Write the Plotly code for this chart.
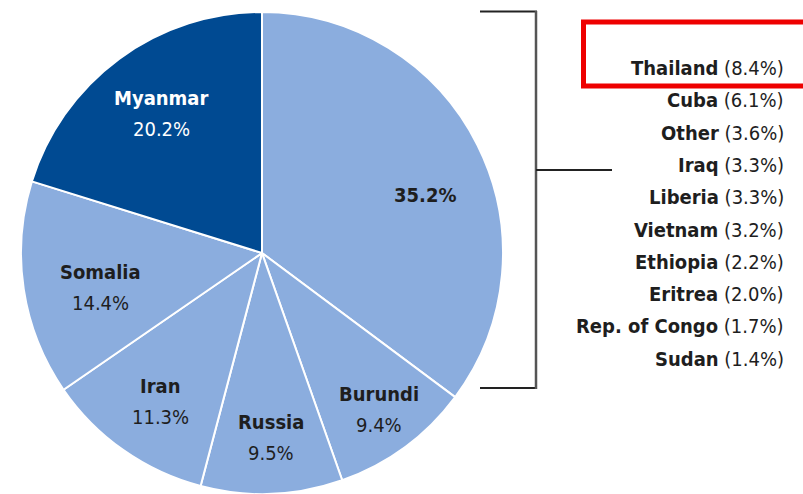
import math
import plotly.graph_objects as go

# ---- data ----
main_labels = ["Other countries", "Burundi", "Russia", "Iran", "Somalia", "Myanmar"]
main_values = [35.2, 9.4, 9.5, 11.3, 14.4, 20.2]

other_labels = ["Thailand", "Cuba", "Other", "Iraq", "Liberia", "Vietnam",
                "Ethiopia", "Eritrea", "Rep. of Congo", "Sudan"]
other_values = [8.4, 6.1, 3.6, 3.3, 3.3, 3.2, 2.2, 2.0, 1.7, 1.4]

# ---- style ----
W, H = 803, 494
FONT = "DejaVu Sans Condensed, Liberation Sans Narrow, Arial Narrow, sans-serif"
LIGHT = "#8badde"
DARK = "#004a92"
INK = "#1e1e1e"
FS = 20

# label placement inside slices: (radius fraction, angle tweak in degrees)
label_place = [(0.72, 7.0), (0.81, -0.5), (0.765, -0.5), (0.745, -0.8), (0.683, -3.3), (0.713, 0.4)]

def px(x):
    return x / W

def py(y):
    return 1 - y / H

cx, cy, r = 262, 253, 241

colors = [DARK if l == "Myanmar" else LIGHT for l in main_labels]

fig = go.Figure(go.Pie(
    labels=main_labels,
    values=main_values,
    sort=False,
    direction="clockwise",
    rotation=0,
    marker=dict(colors=colors, line=dict(color="white", width=2)),
    textinfo="none",
    hoverinfo="label+value",
    showlegend=False,
    domain=dict(x=[px(cx - r), px(cx + r)], y=[py(cy + r), py(cy - r)]),
))

annotations = []
total = sum(main_values)
cum = 0.0
for lab, v, (rf, tweak) in zip(main_labels, main_values, label_place):
    mid = (cum + v / 2) / total * 360 + tweak
    cum += v
    a = math.radians(mid)
    lx = cx + rf * r * math.sin(a)
    ly = cy - rf * r * math.cos(a)
    col = "white" if lab == "Myanmar" else INK
    if lab == "Other countries":
        annotations.append(dict(xref="paper", yref="paper", x=px(lx), y=py(ly),
                                xanchor="center", yanchor="middle", showarrow=False,
                                text=f"<b>{v:.1f}%</b>",
                                font=dict(family=FONT, size=FS, color=col)))
    else:
        annotations.append(dict(xref="paper", yref="paper", x=px(lx), y=py(ly - 15.5),
                                xanchor="center", yanchor="middle", showarrow=False,
                                text=f"<b>{lab}</b>",
                                font=dict(family=FONT, size=FS, color=col)))
        annotations.append(dict(xref="paper", yref="paper", x=px(lx), y=py(ly + 15.5),
                                xanchor="center", yanchor="middle", showarrow=False,
                                text=f"{v:.1f}%",
                                font=dict(family=FONT, size=FS, color=col)))

for i, (name, v) in enumerate(zip(other_labels, other_values)):
    y = 68 + 32.3 * i
    annotations.append(dict(
        xref="paper", yref="paper", x=px(786), y=py(y),
        xanchor="right", yanchor="middle", showarrow=False,
        text=f"<b>{name}</b> ({v:.1f}%)",
        font=dict(family=FONT, size=FS, color=INK),
    ))

shapes = []
hline = dict(color="#222222", width=2)
vline = dict(color="#555555", width=2.5)
shapes.append(dict(type="line", xref="paper", yref="paper",
                   x0=px(480), x1=px(537), y0=py(11.5), y1=py(11.5), line=hline))
shapes.append(dict(type="line", xref="paper", yref="paper",
                   x0=px(480), x1=px(537), y0=py(388), y1=py(388), line=hline))
shapes.append(dict(type="line", xref="paper", yref="paper",
                   x0=px(536), x1=px(536), y0=py(11), y1=py(389), line=vline))
shapes.append(dict(type="line", xref="paper", yref="paper",
                   x0=px(536), x1=px(612), y0=py(170), y1=py(170), line=hline))
shapes.append(dict(type="rect", xref="paper", yref="paper",
                   x0=px(583.5), x1=px(812), y0=py(22), y1=py(86),
                   line=dict(color="#ee0000", width=5)))

fig.update_layout(
    width=W, height=H,
    margin=dict(l=0, r=0, t=0, b=0),
    paper_bgcolor="white", plot_bgcolor="white",
    shapes=shapes, annotations=annotations,
)

fig.write_html("out.html", config={"displayModeBar": False},
               post_script="document.body.style.margin='0';document.body.style.overflow='hidden';")
